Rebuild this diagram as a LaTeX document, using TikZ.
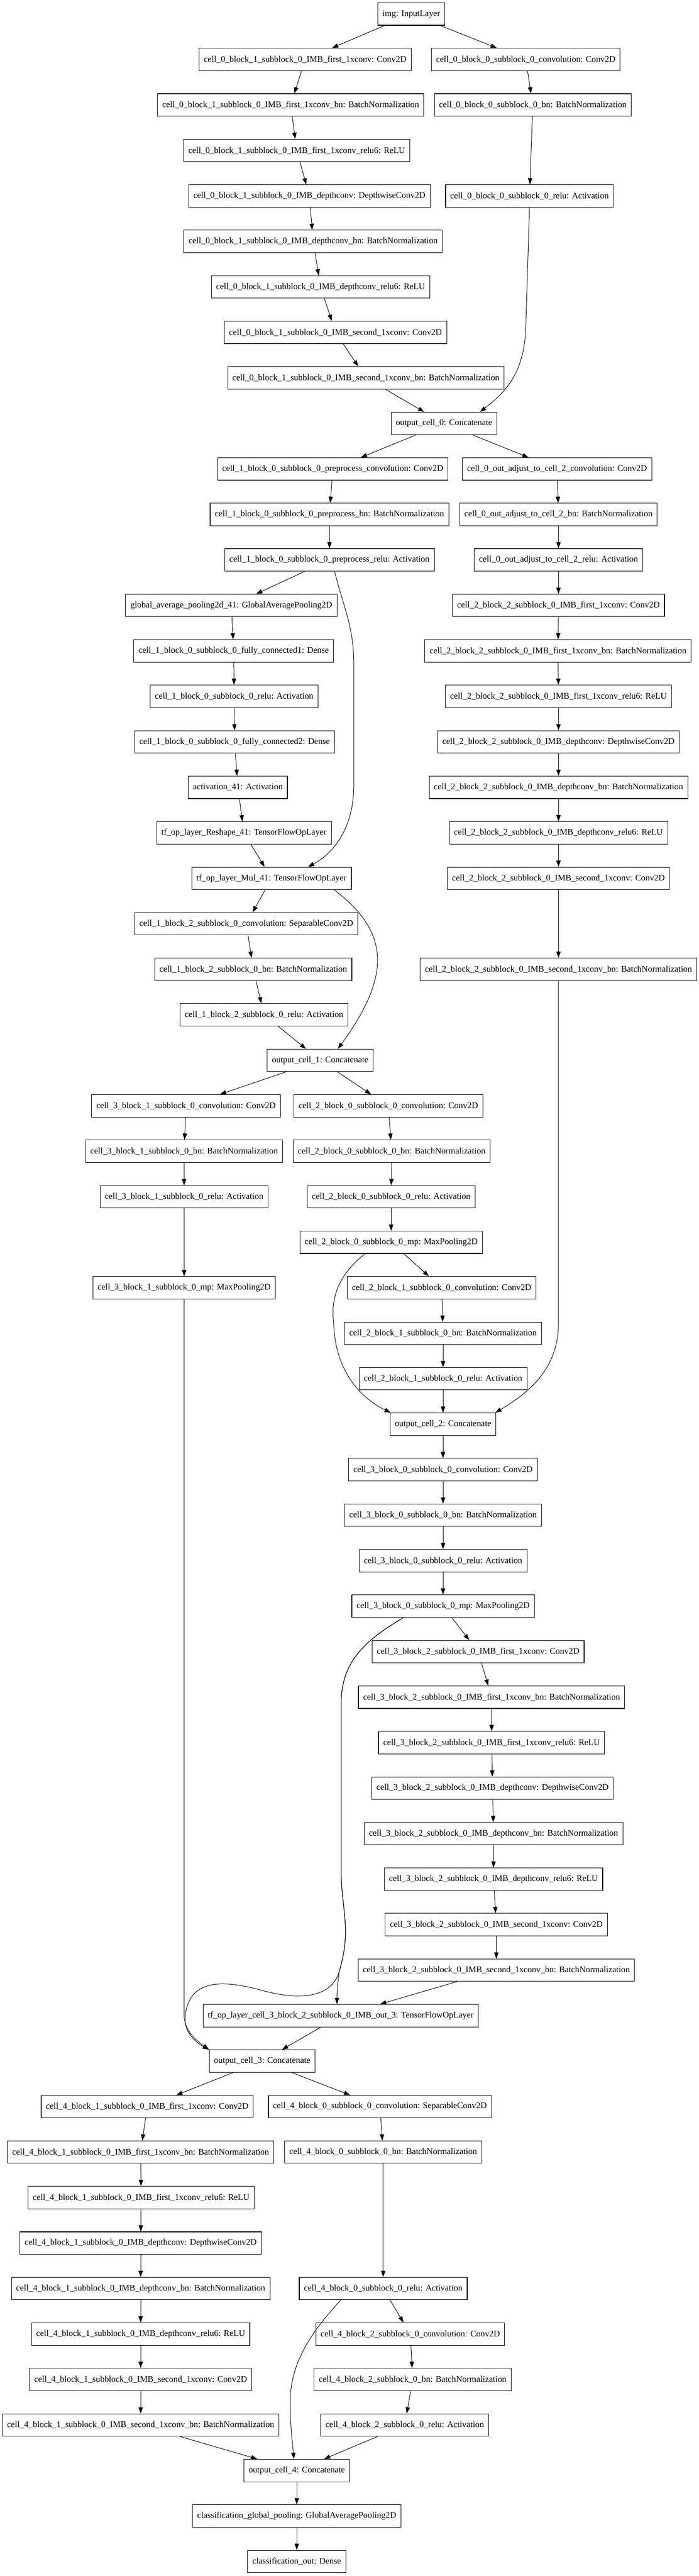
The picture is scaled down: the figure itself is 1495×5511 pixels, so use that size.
\documentclass[tikz,border=0pt]{standalone}
\usepackage{fontspec}
\setmainfont{Liberation Serif}
\usetikzlibrary{arrows.meta,calc}
\begin{document}
\begin{tikzpicture}[x=0.75pt,y=-0.75pt,
  lay/.style={draw=black, line width=0.9pt, rectangle, minimum height=36pt, minimum width=54pt, inner xsep=7.6pt, inner ysep=0pt, font=\fontsize{14pt}{16pt}\selectfont, fill=white},
  arr/.style={-{Triangle[length=10pt,width=7pt]}, line width=0.8pt, draw=black}]
\useasboundingbox[fill=white] (0,0) rectangle (1495,5511);
% nodes
\node[lay] (img) at (880,30) {img: InputLayer};
\node[lay] (A1) at (653,127.3) {cell\_0\_block\_1\_subblock\_0\_IMB\_first\_1xconv: Conv2D};
\node[lay] (B1) at (1125,127.3) {cell\_0\_block\_0\_subblock\_0\_convolution: Conv2D};
\node[lay] (A2) at (622,224.6) {cell\_0\_block\_1\_subblock\_0\_IMB\_first\_1xconv\_bn: BatchNormalization};
\node[lay] (B2) at (1140,224.6) {cell\_0\_block\_0\_subblock\_0\_bn: BatchNormalization};
\node[lay] (A3) at (635,322.0) {cell\_0\_block\_1\_subblock\_0\_IMB\_first\_1xconv\_relu6: ReLU};
\node[lay] (A4) at (662,419.3) {cell\_0\_block\_1\_subblock\_0\_IMB\_depthconv: DepthwiseConv2D};
\node[lay] (B3) at (1133,419.3) {cell\_0\_block\_0\_subblock\_0\_relu: Activation};
\node[lay] (A5) at (670,516.6) {cell\_0\_block\_1\_subblock\_0\_IMB\_depthconv\_bn: BatchNormalization};
\node[lay] (A6) at (686,613.9) {cell\_0\_block\_1\_subblock\_0\_IMB\_depthconv\_relu6: ReLU};
\node[lay] (A7) at (718,711.2) {cell\_0\_block\_1\_subblock\_0\_IMB\_second\_1xconv: Conv2D};
\node[lay] (A8) at (783,808.6) {cell\_0\_block\_1\_subblock\_0\_IMB\_second\_1xconv\_bn: BatchNormalization};
\node[lay] (C0) at (950,905.9) {output\_cell\_0: Concatenate};
\node[lay] (D1) at (712,1003.2) {cell\_1\_block\_0\_subblock\_0\_preprocess\_convolution: Conv2D};
\node[lay] (E1) at (1192,1003.2) {cell\_0\_out\_adjust\_to\_cell\_2\_convolution: Conv2D};
\node[lay] (D2) at (705,1100.5) {cell\_1\_block\_0\_subblock\_0\_preprocess\_bn: BatchNormalization};
\node[lay] (E2) at (1195,1100.5) {cell\_0\_out\_adjust\_to\_cell\_2\_bn: BatchNormalization};
\node[lay] (D3) at (705,1197.8) {cell\_1\_block\_0\_subblock\_0\_preprocess\_relu: Activation};
\node[lay] (E3) at (1195,1197.8) {cell\_0\_out\_adjust\_to\_cell\_2\_relu: Activation};
\node[lay] (F1) at (495,1295.2) {global\_average\_pooling2d\_41: GlobalAveragePooling2D};
\node[lay] (E4) at (1195,1295.2) {cell\_2\_block\_2\_subblock\_0\_IMB\_first\_1xconv: Conv2D};
\node[lay] (F2) at (500,1392.5) {cell\_1\_block\_0\_subblock\_0\_fully\_connected1: Dense};
\node[lay] (E5) at (1194,1392.5) {cell\_2\_block\_2\_subblock\_0\_IMB\_first\_1xconv\_bn: BatchNormalization};
\node[lay] (F3) at (501,1489.8) {cell\_1\_block\_0\_subblock\_0\_relu: Activation};
\node[lay] (E6) at (1195,1489.8) {cell\_2\_block\_2\_subblock\_0\_IMB\_first\_1xconv\_relu6: ReLU};
\node[lay] (F4) at (502,1587.1) {cell\_1\_block\_0\_subblock\_0\_fully\_connected2: Dense};
\node[lay] (E7) at (1195,1587.1) {cell\_2\_block\_2\_subblock\_0\_IMB\_depthconv: DepthwiseConv2D};
\node[lay] (F5) at (509,1684.4) {activation\_41: Activation};
\node[lay] (E8) at (1195,1684.4) {cell\_2\_block\_2\_subblock\_0\_IMB\_depthconv\_bn: BatchNormalization};
\node[lay] (F6) at (522,1781.8) {tf\_op\_layer\_Reshape\_41: TensorFlowOpLayer};
\node[lay] (E9) at (1195,1781.8) {cell\_2\_block\_2\_subblock\_0\_IMB\_depthconv\_relu6: ReLU};
\node[lay] (G1) at (581,1879.1) {tf\_op\_layer\_Mul\_41: TensorFlowOpLayer};
\node[lay] (E10) at (1195,1879.1) {cell\_2\_block\_2\_subblock\_0\_IMB\_second\_1xconv: Conv2D};
\node[lay] (G2) at (527,1976.4) {cell\_1\_block\_2\_subblock\_0\_convolution: SeparableConv2D};
\node[lay] (G3) at (542,2073.7) {cell\_1\_block\_2\_subblock\_0\_bn: BatchNormalization};
\node[lay] (E11) at (1195,2073.7) {cell\_2\_block\_2\_subblock\_0\_IMB\_second\_1xconv\_bn: BatchNormalization};
\node[lay] (G4) at (565,2171.0) {cell\_1\_block\_2\_subblock\_0\_relu: Activation};
\node[lay] (C1) at (685,2268.4) {output\_cell\_1: Concatenate};
\node[lay] (H1) at (398,2365.7) {cell\_3\_block\_1\_subblock\_0\_convolution: Conv2D};
\node[lay] (I1) at (831,2365.7) {cell\_2\_block\_0\_subblock\_0\_convolution: Conv2D};
\node[lay] (H2) at (394,2463.0) {cell\_3\_block\_1\_subblock\_0\_bn: BatchNormalization};
\node[lay] (I2) at (838,2463.0) {cell\_2\_block\_0\_subblock\_0\_bn: BatchNormalization};
\node[lay] (H3) at (394,2560.3) {cell\_3\_block\_1\_subblock\_0\_relu: Activation};
\node[lay] (I3) at (837,2560.3) {cell\_2\_block\_0\_subblock\_0\_relu: Activation};
\node[lay] (I4) at (837,2657.6) {cell\_2\_block\_0\_subblock\_0\_mp: MaxPooling2D};
\node[lay] (H4) at (394,2755.0) {cell\_3\_block\_1\_subblock\_0\_mp: MaxPooling2D};
\node[lay] (I5) at (945,2755.0) {cell\_2\_block\_1\_subblock\_0\_convolution: Conv2D};
\node[lay] (I6) at (948,2852.3) {cell\_2\_block\_1\_subblock\_0\_bn: BatchNormalization};
\node[lay] (I7) at (948,2949.6) {cell\_2\_block\_1\_subblock\_0\_relu: Activation};
\node[lay] (C2) at (948,3046.9) {output\_cell\_2: Concatenate};
\node[lay] (J1) at (948,3144.2) {cell\_3\_block\_0\_subblock\_0\_convolution: Conv2D};
\node[lay] (J2) at (948,3241.6) {cell\_3\_block\_0\_subblock\_0\_bn: BatchNormalization};
\node[lay] (J3) at (948,3338.9) {cell\_3\_block\_0\_subblock\_0\_relu: Activation};
\node[lay] (J4) at (948,3436.2) {cell\_3\_block\_0\_subblock\_0\_mp: MaxPooling2D};
\node[lay] (K1) at (1023,3533.5) {cell\_3\_block\_2\_subblock\_0\_IMB\_first\_1xconv: Conv2D};
\node[lay] (K2) at (1052,3630.8) {cell\_3\_block\_2\_subblock\_0\_IMB\_first\_1xconv\_bn: BatchNormalization};
\node[lay] (K3) at (1052,3728.2) {cell\_3\_block\_2\_subblock\_0\_IMB\_first\_1xconv\_relu6: ReLU};
\node[lay] (K4) at (1054,3825.5) {cell\_3\_block\_2\_subblock\_0\_IMB\_depthconv: DepthwiseConv2D};
\node[lay] (K5) at (1056,3922.8) {cell\_3\_block\_2\_subblock\_0\_IMB\_depthconv\_bn: BatchNormalization};
\node[lay] (K6) at (1056,4020.1) {cell\_3\_block\_2\_subblock\_0\_IMB\_depthconv\_relu6: ReLU};
\node[lay] (K7) at (1062,4117.4) {cell\_3\_block\_2\_subblock\_0\_IMB\_second\_1xconv: Conv2D};
\node[lay] (K8) at (1062,4214.8) {cell\_3\_block\_2\_subblock\_0\_IMB\_second\_1xconv\_bn: BatchNormalization};
\node[lay] (L) at (729,4312.1) {tf\_op\_layer\_cell\_3\_block\_2\_subblock\_0\_IMB\_out\_3: TensorFlowOpLayer};
\node[lay] (C3) at (561,4409.4) {output\_cell\_3: Concatenate};
\node[lay] (M1) at (315,4506.7) {cell\_4\_block\_1\_subblock\_0\_IMB\_first\_1xconv: Conv2D};
\node[lay] (N1) at (813,4506.7) {cell\_4\_block\_0\_subblock\_0\_convolution: SeparableConv2D};
\node[lay] (M2) at (301,4604.0) {cell\_4\_block\_1\_subblock\_0\_IMB\_first\_1xconv\_bn: BatchNormalization};
\node[lay] (N2) at (820,4604.0) {cell\_4\_block\_0\_subblock\_0\_bn: BatchNormalization};
\node[lay] (M3) at (302,4701.4) {cell\_4\_block\_1\_subblock\_0\_IMB\_first\_1xconv\_relu6: ReLU};
\node[lay] (M4) at (301,4798.7) {cell\_4\_block\_1\_subblock\_0\_IMB\_depthconv: DepthwiseConv2D};
\node[lay] (M5) at (301,4896.0) {cell\_4\_block\_1\_subblock\_0\_IMB\_depthconv\_bn: BatchNormalization};
\node[lay] (N3) at (820,4896.0) {cell\_4\_block\_0\_subblock\_0\_relu: Activation};
\node[lay] (M6) at (301,4993.3) {cell\_4\_block\_1\_subblock\_0\_IMB\_depthconv\_relu6: ReLU};
\node[lay] (O1) at (878,4993.3) {cell\_4\_block\_2\_subblock\_0\_convolution: Conv2D};
\node[lay] (M7) at (301,5090.6) {cell\_4\_block\_1\_subblock\_0\_IMB\_second\_1xconv: Conv2D};
\node[lay] (O2) at (883,5090.6) {cell\_4\_block\_2\_subblock\_0\_bn: BatchNormalization};
\node[lay] (M8) at (301,5188.0) {cell\_4\_block\_1\_subblock\_0\_IMB\_second\_1xconv\_bn: BatchNormalization};
\node[lay] (O3) at (866,5188.0) {cell\_4\_block\_2\_subblock\_0\_relu: Activation};
\node[lay] (C4) at (635,5285.3) {output\_cell\_4: Concatenate};
\node[lay] (P1) at (635,5382.6) {classification\_global\_pooling: GlobalAveragePooling2D};
\node[lay] (P2) at (635,5479.9) {classification\_out: Dense};
% straight edges
\foreach \a/\b in {img/A1, img/B1, A1/A2, A2/A3, A3/A4, A4/A5, A5/A6, A6/A7, A7/A8, A8/C0, B1/B2, B2/B3,
  C0/D1, C0/E1, D1/D2, D2/D3, D3/F1, F1/F2, F2/F3, F3/F4, F4/F5, F5/F6, F6/G1,
  G1/G2, G2/G3, G3/G4, G4/C1,
  E1/E2, E2/E3, E3/E4, E4/E5, E5/E6, E6/E7, E7/E8, E8/E9, E9/E10, E10/E11,
  C1/H1, C1/I1, H1/H2, H2/H3, H3/H4, I1/I2, I2/I3, I3/I4, I4/I5, I5/I6, I6/I7, I7/C2,
  C2/J1, J1/J2, J2/J3, J3/J4, J4/K1, K1/K2, K2/K3, K3/K4, K4/K5, K5/K6, K6/K7, K7/K8, K8/L, L/C3,
  C3/M1, C3/N1, M1/M2, M2/M3, M3/M4, M4/M5, M5/M6, M6/M7, M7/M8, M8/C4,
  N1/N2, N2/N3, N3/O1, O1/O2, O2/O3, O3/C4, C4/P1, P1/P2}
  \draw[arr] (\a) -- (\b);
% curved edges
\draw[arr] (B3.south) -- (1125,700) .. controls (1122,800) and (1080,840) .. ($(C0.north)+(77,0)$);
\draw[arr] ($(D3.south)+(11,0)$) .. controls (735,1300) and (757,1340) .. (757,1420) -- (757,1680) .. controls (757,1770) and (715,1825) .. ($(G1.north)+(78,0)$);
\draw[arr] ($(G1.south)+(134,0)$) .. controls (836,1995) and (836,2089) .. ($(C1.north)+(38,0)$);
\draw[arr] ($(I4.south)+(-56,0)$) .. controls (740,2715) and (705,2760) .. (714,2830) .. controls (716,2920) and (760,2985) .. ($(C2.north west)+(2,0)$);
\draw[arr] (E11.south) -- (1195,2830) .. controls (1195,2930) and (1130,2980) .. ($(C2.north east)+(-2,0)$);
\draw[arr] ($(J4.south)+(-85,0)$) .. controls (780,3510) and (730,3555) .. (730,3645) -- (730,4010) .. controls (732,4090) and (752,4130) .. (726,4217) .. controls (722,4245) and (721,4265) .. ($(L.north)+(-8,0)$);
\draw[arr] ($(J4.south)+(-85,0)$) .. controls (780,3510) and (730,3555) .. (730,3645) -- (730,4010) .. controls (732,4090) and (752,4130) .. (726,4217) .. controls (710,4275) and (640,4280) .. (560,4258) .. controls (480,4236) and (400,4230) .. (396,4320) .. controls (396,4350) and (420,4370) .. (C3.north west);
\draw[arr] (H4.south) -- (394,4310) .. controls (394,4345) and (420,4365) .. (C3.north west);
\draw[arr] ($(N3.south)+(-91,0)$) .. controls (680,4975) and (625,5040) .. (621,5130) .. controls (620,5180) and (626,5230) .. ($(C4.north)+(-6,0)$);
\end{tikzpicture}
\end{document}
